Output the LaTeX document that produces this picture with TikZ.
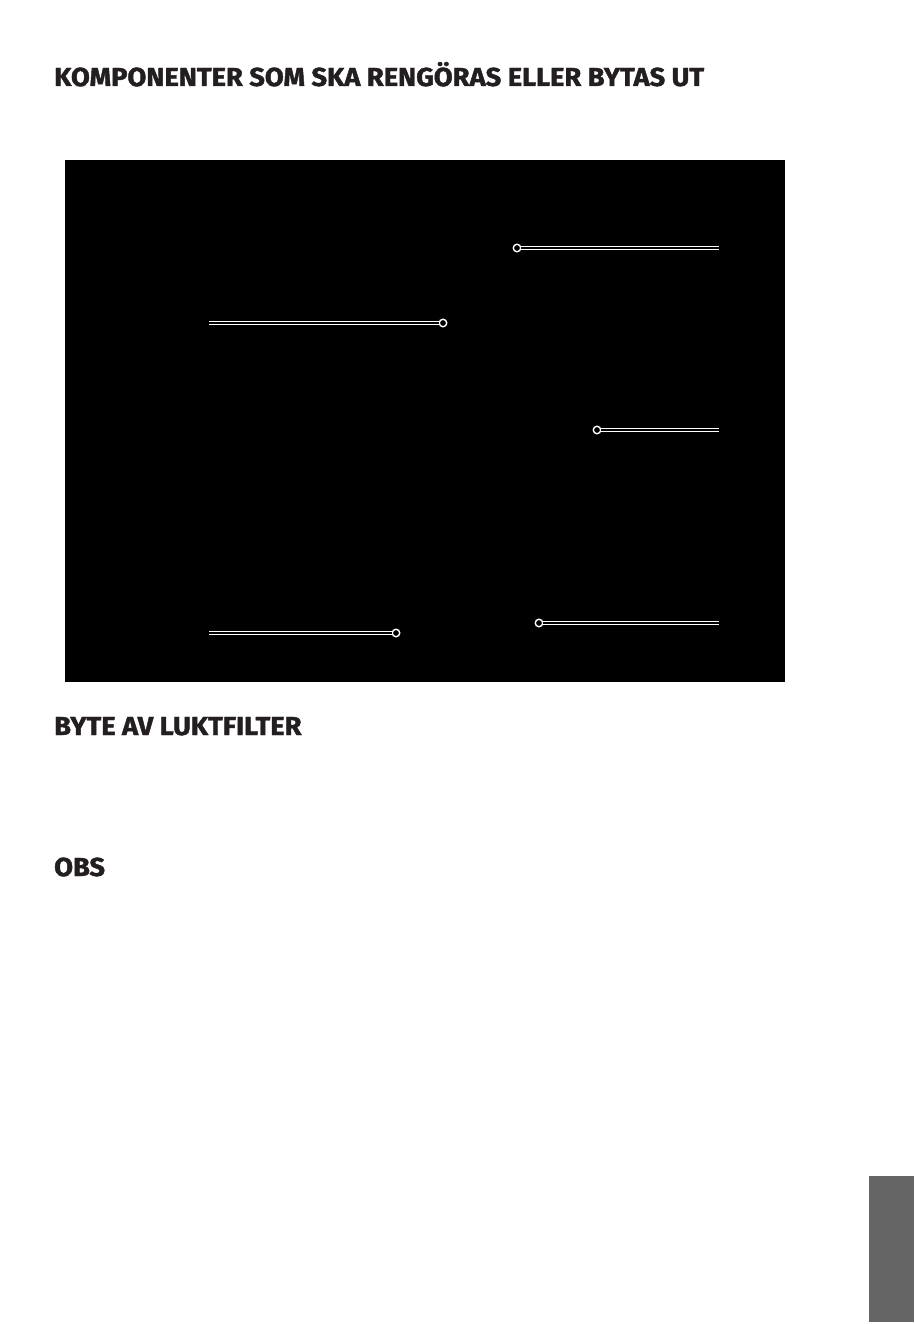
\documentclass[tikz,border=0pt]{standalone}
\usepackage{fontspec}
\setmainfont{Fira Sans}[BoldFeatures={FakeBold=1.5}]
\usepackage{tikz}
\usetikzlibrary{positioning}
\definecolor{tabgrey}{RGB}{101,101,101}
\definecolor{headink}{RGB}{35,31,32}
\newcommand{\headtext}[1]{\scalebox{1.05}[1]{#1}}
\tikzstyle{heading} = [anchor=base west,inner sep=0pt,text=headink,font=\fontsize{26}{26}\selectfont\bfseries]
\tikzstyle{callout} = [draw=white,line width=0.9pt,double=black,double distance=1.6pt]
\tikzstyle{pin} = [circle,draw=white,fill=black,line width=1.4pt,minimum size=7.5pt,inner sep=0pt]

\begin{document}
\begin{tikzpicture}[x=1pt,y=-1pt]
		\useasboundingbox (0,0) rectangle (914,1324);
		\fill[black](65,160) rectangle (785,682);
		\fill[tabgrey](869,1176) rectangle (914,1322);
		\node[heading](title) at (54,86){\headtext{KOMPONENTER SOM SKA RENGÖRAS ELLER BYTAS UT}};
		\node[heading](filter) at (54,735){\headtext{BYTE AV LUKTFILTER}};
		\node[heading](obs) at (54,876){\headtext{OBS}};
		%callouts
		\node[pin](pinA) at (517,248){};
		\coordinate (endA) at (719,248);
		\node[pin](pinB) at (443,323){};
		\coordinate (endB) at (209,323);
		\node[pin](pinC) at (597,430){};
		\coordinate (endC) at (719,430);
		\node[pin](pinD) at (396,633){};
		\coordinate (endD) at (209,633);
		\node[pin](pinE) at (539,623){};
		\coordinate (endE) at (719,623);
		\path[callout](pinA)--(endA);
		\path[callout](pinB)--(endB);
		\path[callout](pinC)--(endC);
		\path[callout](pinD)--(endD);
		\path[callout](pinE)--(endE);
	\end{tikzpicture}
\end{document}
